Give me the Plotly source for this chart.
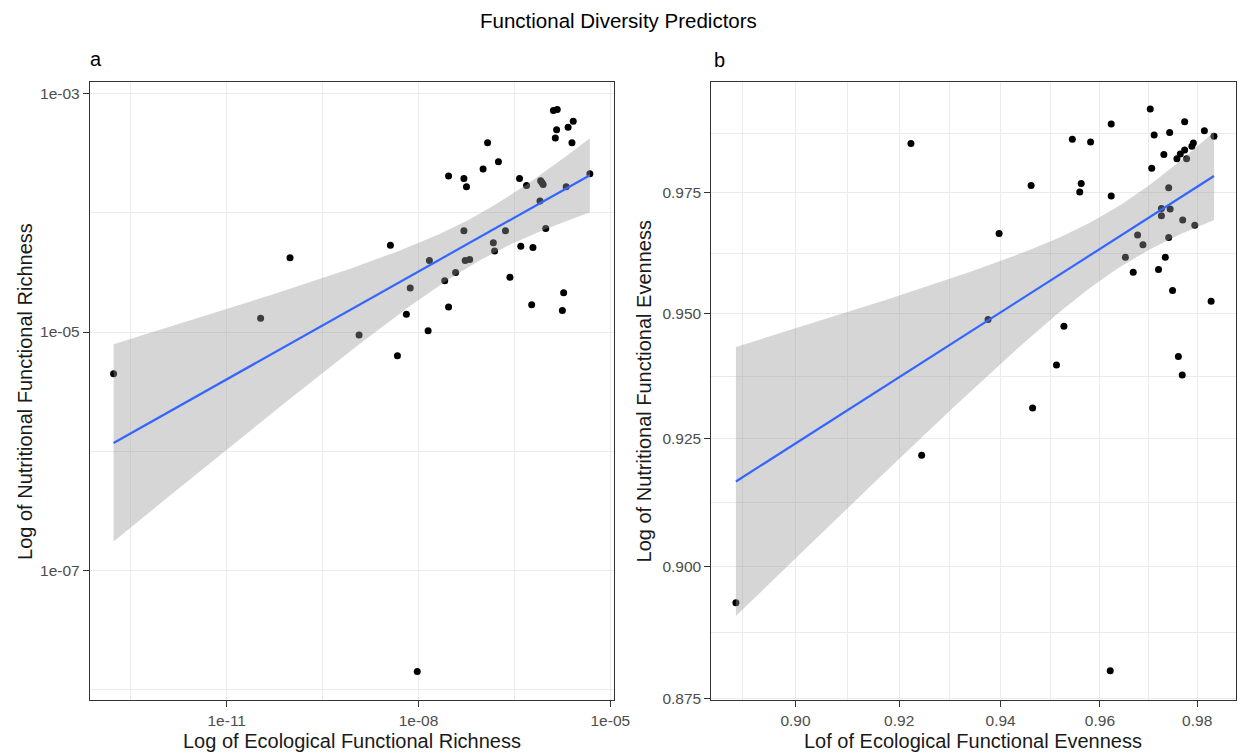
import numpy as np
import plotly.graph_objects as go

# ---------------- data ----------------
# Panel a: log10 of ecological / nutritional functional richness
eco_rich_log = [-12.77, -10.47, -10.01, -8.93, -8.44, -8.33, -8.19, -8.13, -7.85, -7.83,
                -7.59, -7.53, -7.53, -7.42, -7.29, -7.29, -7.25, -7.27, -7.20, -6.99,
                -6.92, -6.83, -6.81, -6.75, -6.64, -6.57, -6.42, -6.40, -6.31, -6.23,
                -6.21, -6.10, -6.09, -6.05, -6.07, -6.01, -5.89, -5.83, -5.86, -5.84,
                -5.75, -5.73, -5.69, -5.66, -5.60, -5.58, -5.32, -8.02]
nut_rich_log = [-5.35, -4.885, -4.375, -5.025, -4.27, -5.20, -4.85, -4.63, -4.99, -4.40,
                -4.57, -3.69, -4.79, -4.50, -3.71, -4.15, -3.78, -4.40, -4.39, -3.63,
                -3.41, -4.25, -4.32, -3.57, -4.15, -4.54, -3.71, -4.28, -3.77, -4.77,
                -4.29, -3.90, -3.73, -3.76, -3.745, -4.13, -3.14, -3.13, -3.37, -3.30,
                -4.82, -4.67, -3.78, -3.28, -3.41, -3.23, -3.67, -7.85]

# Panel b: ecological / nutritional functional evenness
eco_even = [0.9223, 0.9397, 0.9375, 0.9461, 0.9527, 0.9512, 0.9544, 0.9562, 0.9559, 0.9581,
            0.9623, 0.9623, 0.9652, 0.9668, 0.9677, 0.9688, 0.9703, 0.9706, 0.9711, 0.9720,
            0.9726, 0.9726, 0.9731, 0.9734, 0.9741, 0.9741, 0.9743, 0.9744, 0.9749, 0.9758,
            0.9761, 0.9765, 0.9769, 0.9770, 0.9774, 0.9774, 0.9778, 0.9789, 0.9792, 0.9795,
            0.9815, 0.9829, 0.9835, 0.8887, 0.9244, 0.9464, 0.9621]
nut_even = [0.9853, 0.9665, 0.9489, 0.9765, 0.9475, 0.9397, 0.9862, 0.9769, 0.9751, 0.9856,
            0.9894, 0.9743, 0.9616, 0.9585, 0.9662, 0.9642, 0.9926, 0.9801, 0.9871, 0.9591,
            0.9717, 0.9702, 0.9830, 0.9616, 0.9760, 0.9657, 0.9876, 0.9716, 0.9548, 0.9821,
            0.9414, 0.9831, 0.9377, 0.9693, 0.9899, 0.9839, 0.9821, 0.9847, 0.9854, 0.9682,
            0.9880, 0.9526, 0.9868, 0.8931, 0.9217, 0.9311, 0.8802]

# tick labels
a_x_ticks = [1e-11, 1e-8, 1e-5]
a_x_text = ["1e-11", "1e-08", "1e-05"]
a_y_ticks = [1e-3, 1e-5, 1e-7]
a_y_text = ["1e-03", "1e-05", "1e-07"]
b_x_ticks = [0.90, 0.92, 0.94, 0.96, 0.98]
b_x_text = ["0.90", "0.92", "0.94", "0.96", "0.98"]
b_y_ticks = [0.875, 0.900, 0.925, 0.950, 0.975]
b_y_text = ["0.875", "0.900", "0.925", "0.950", "0.975"]

T_CRIT = 2.014  # 97.5% t quantile, ~45 df


def lm_band(lx, ly, n=80):
    lx = np.asarray(lx, float)
    ly = np.asarray(ly, float)
    b1, b0 = np.polyfit(lx, ly, 1)
    resid = ly - (b0 + b1 * lx)
    s = np.sqrt(np.sum(resid ** 2) / (len(lx) - 2))
    xbar = lx.mean()
    sxx = np.sum((lx - xbar) ** 2)
    gx = np.linspace(lx.min(), lx.max(), n)
    fit = b0 + b1 * gx
    se = s * np.sqrt(1 / len(lx) + (gx - xbar) ** 2 / sxx)
    return gx, fit, fit - T_CRIT * se, fit + T_CRIT * se


# panel a (fit in log10 space)
ax_x = 10 ** np.array(eco_rich_log)
ax_y = 10 ** np.array(nut_rich_log)
gxa, fa, loa, hia = lm_band(eco_rich_log, nut_rich_log)

# panel b (fit in log10 space)
gxb, fb, lob, hib = lm_band(np.log10(eco_even), np.log10(nut_even))

REF_W, H = 1238, 755          # reference picture size; layout positions are given in its pixels
W = 1254                      # page width the browser lays out (picture is squeezed to 1238)
PLOT_TOP, PLOT_BOT = 82, 700
MT = PLOT_TOP
MB = H - PLOT_BOT
PH = H - MT - MB


def X(px):
    return px / REF_W


def Y(py):
    return (PLOT_BOT - py) / PH


fig = go.Figure()

band_color = "rgba(153,153,153,0.4)"
line_color = "#3366FF"
FONT = "Liberation Sans, Arial, sans-serif"

# panel a
fig.add_trace(go.Scatter(x=ax_x, y=ax_y, mode="markers",
                         marker=dict(color="black", size=7), xaxis="x", yaxis="y",
                         showlegend=False))
fig.add_trace(go.Scatter(x=np.concatenate([10 ** gxa, 10 ** gxa[::-1]]),
                         y=np.concatenate([10 ** hia, 10 ** loa[::-1]]),
                         fill="toself", fillcolor=band_color, line=dict(width=0),
                         mode="lines", xaxis="x", yaxis="y", showlegend=False, hoverinfo="skip"))
fig.add_trace(go.Scatter(x=10 ** gxa, y=10 ** fa, mode="lines",
                         line=dict(color=line_color, width=2.2), xaxis="x", yaxis="y",
                         showlegend=False))

# panel b
fig.add_trace(go.Scatter(x=eco_even, y=nut_even, mode="markers",
                         marker=dict(color="black", size=7), xaxis="x2", yaxis="y2",
                         showlegend=False))
fig.add_trace(go.Scatter(x=np.concatenate([10 ** gxb, 10 ** gxb[::-1]]),
                         y=np.concatenate([10 ** hib, 10 ** lob[::-1]]),
                         fill="toself", fillcolor=band_color, line=dict(width=0),
                         mode="lines", xaxis="x2", yaxis="y2", showlegend=False, hoverinfo="skip"))
fig.add_trace(go.Scatter(x=10 ** gxb, y=10 ** fb, mode="lines",
                         line=dict(color=line_color, width=2.2), xaxis="x2", yaxis="y2",
                         showlegend=False))

tickfont = dict(family=FONT, size=15.5, color="#4d4d4d")
grid = "#ebebeb"
frame = "#333333"


def axis_common(**kw):
    d = dict(type="log", showline=True, mirror=True, linecolor=frame, linewidth=1.2,
             ticks="outside", ticklen=6, tickcolor=frame, tickwidth=1.2,
             showgrid=True, gridcolor=grid, gridwidth=1.3, zeroline=False,
             tickfont=tickfont, tickmode="array")
    d.update(kw)
    return d


def minor_log(ticks):
    lt = np.sort(np.log10(ticks))
    step = lt[1] - lt[0]
    ext = np.concatenate([[lt[0] - step], lt, [lt[-1] + step]])
    return list(10 ** ((ext[:-1] + ext[1:]) / 2))


def minor_geo(ticks):
    t = sorted(ticks)
    step = t[1] - t[0]
    ext = [t[0] - step] + t + [t[-1] + step]
    return [float(np.sqrt(ext[i] * ext[i + 1])) for i in range(len(ext) - 1)]


def minor(vals):
    return dict(tickvals=vals, showgrid=True, gridcolor=grid, gridwidth=0.7, ticks="")


fig.update_layout(
    width=W, height=H,
    margin=dict(l=0, r=0, t=MT, b=MB, pad=0),
    paper_bgcolor="white", plot_bgcolor="white",
    hovermode=False,
    font=dict(family=FONT, color="black"),
    xaxis=axis_common(domain=[X(90), X(614)], range=[-13.14, -4.95], anchor="y",
                      tickvals=a_x_ticks, ticktext=a_x_text, minor=minor(minor_log(a_x_ticks))),
    yaxis=axis_common(domain=[0, 1], range=[-8.09, -2.90], anchor="x",
                      tickvals=a_y_ticks, ticktext=a_y_text, minor=minor(minor_log(a_y_ticks))),
    xaxis2=axis_common(domain=[X(712), X(1237)], range=[np.log10(0.8841), np.log10(0.9881)],
                       anchor="y2", tickvals=b_x_ticks, ticktext=b_x_text,
                       minor=minor(minor_geo(b_x_ticks))),
    yaxis2=axis_common(domain=[0, 1], range=[np.log10(0.8747), np.log10(0.99834)], anchor="x2",
                       tickvals=b_y_ticks, ticktext=b_y_text,
                       minor=minor(minor_geo(b_y_ticks))),
)

annots = [
    dict(text="Functional Diversity Predictors", x=619, y=21, size=20.5, angle=0, color="black"),
    dict(text="a", x=96, y=59, size=20, angle=0, color="black"),
    dict(text="b", x=720, y=60, size=20, angle=0, color="black"),
    dict(text="Log of Ecological Functional Richness", x=352, y=741, size=20, angle=0, color="#1a1a1a"),
    dict(text="Lof of Ecological Functional Evenness", x=974, y=741, size=20, angle=0, color="#1a1a1a"),
    dict(text="Log of Nutritional Functional Richness", x=25, y=391, size=20, angle=-90, color="#1a1a1a"),
    dict(text="Log of Nutritional Functional Evenness", x=645, y=391, size=20, angle=-90, color="#1a1a1a"),
]
for a in annots:
    fig.add_annotation(text=a["text"], xref="paper", yref="paper", x=X(a["x"]), y=Y(a["y"]),
                       xanchor="center", yanchor="middle", showarrow=False,
                       textangle=a["angle"],
                       font=dict(family=FONT, size=a["size"], color=a["color"]))

# remove the default page margin so the figure sits at the window's top-left corner
page_css = ("document.documentElement.style.overflow='hidden';"
            "document.body.style.margin='0';document.body.style.overflow='hidden';")

fig.write_html("out.html", post_script=page_css, config={"displayModeBar": False})
